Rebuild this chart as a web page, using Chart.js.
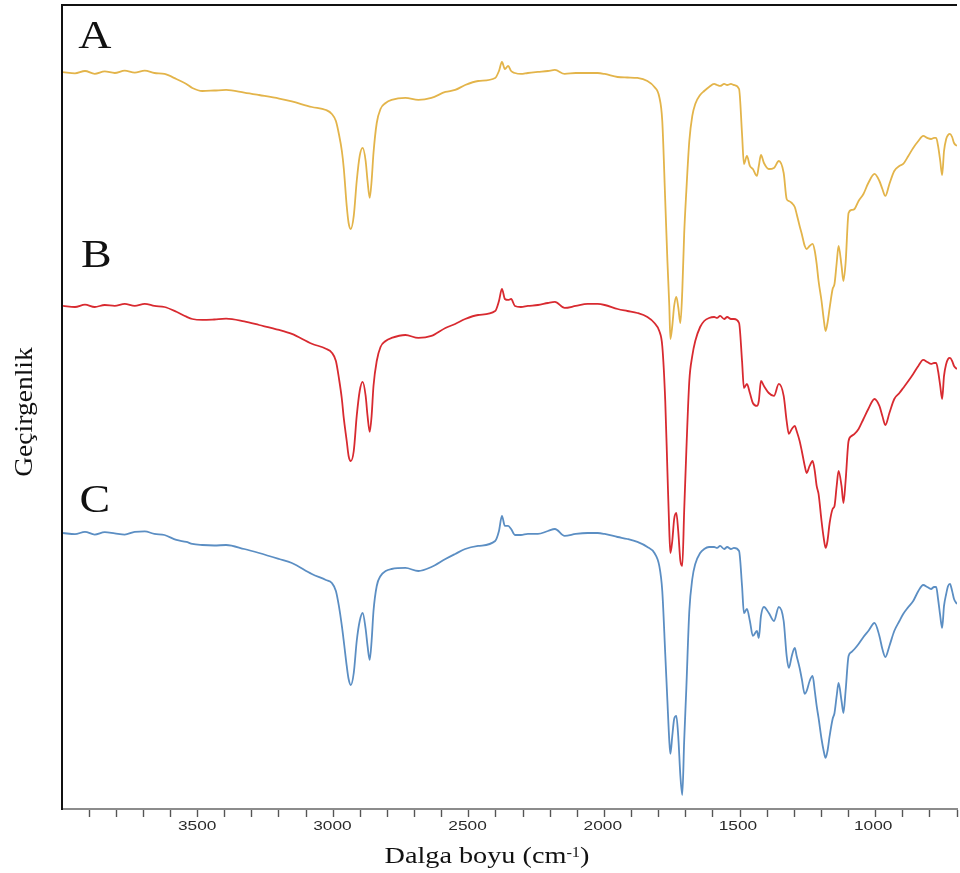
<!DOCTYPE html>
<html lang="tr">

<head>
    <meta charset="UTF-8">
    <meta name="viewport" content="width=device-width, initial-scale=1.0">
    <script src="https://cdn.jsdelivr.net/npm/chart.js"></script>
    <title>FTIR Spektrumları</title>
    <style>
        body {
            margin: 0;
            background-color: #ffffff;
        }

        .chart-container {
            position: relative;
            width: 960px;
            height: 873px;
        }
    </style>
</head>

<body>

    <div class="chart-container">
        <canvas id="ftirChart"></canvas>
    </div>

    <script>
        // Wavenumbers (cm-1), shared by the three spectra
        const wavenumbers = [
            3996, 3952, 3915, 3879, 3842, 3805, 3768, 3731, 3694, 3658,
            3621, 3577, 3540, 3518, 3481, 3437, 3393, 3326, 3271, 3197,
            3150, 3076, 3024, 3002, 2987, 2976, 2965, 2958, 2947, 2940,
            2932, 2921, 2910, 2899, 2888, 2877, 2870, 2862, 2855, 2848,
            2836, 2822, 2803, 2781, 2730, 2682, 2634, 2582, 2546, 2509,
            2461, 2398, 2384, 2373, 2362, 2350, 2339, 2325, 2303, 2277,
            2240, 2203, 2177, 2141, 2100, 2056, 2019, 1993, 1945, 1909,
            1872, 1835, 1809, 1791, 1780, 1769, 1761, 1754, 1750, 1743,
            1736, 1728, 1721, 1713, 1706, 1699, 1691, 1680, 1669, 1658,
            1640, 1625, 1607, 1588, 1577, 1566, 1551, 1540, 1526, 1515,
            1496, 1485, 1478, 1467, 1456, 1445, 1430, 1423, 1415, 1404,
            1386, 1367, 1349, 1331, 1320, 1312, 1301, 1290, 1283, 1272,
            1264, 1253, 1246, 1235, 1224, 1216, 1209, 1202, 1191, 1183,
            1176, 1169, 1161, 1150, 1143, 1135, 1128, 1117, 1110, 1102,
            1091, 1080, 1069, 1054, 1036, 1018, 995, 977, 966, 955,
            940, 922, 903, 889, 870, 852, 833, 815, 800, 786,
            775, 767, 760, 752, 745, 738, 730, 723, 716, 708,
            701, 690
        ];

        // Transmittance (offset, arbitrary units)
        const spectrumA = [
            92.1, 91.95, 92.25, 91.9, 92.2, 92.0, 92.3, 92.05, 92.3, 92.0,
            91.88, 91.25, 90.63, 90.13, 89.75, 89.81, 89.88, 89.56, 89.25, 88.81,
            88.44, 87.75, 87.38, 86.88, 86.0, 84.38, 82.25, 80.13, 75.38, 73.25,
            72.5, 74.13, 78.5, 81.63, 82.63, 81.0, 78.5, 76.38, 78.5, 82.0,
            85.75, 87.5, 88.25, 88.63, 88.88, 88.63, 88.88, 89.63, 89.88, 90.5,
            91.0, 91.38, 92.25, 93.38, 92.5, 92.88, 92.25, 92.0, 91.88, 92.0,
            92.13, 92.25, 92.38, 91.88, 92.0, 92.0, 92.0, 91.88, 91.5, 91.44,
            91.38, 91.0, 90.25, 89.0, 86.0, 76.0, 68.5, 62.88, 58.75, 60.38,
            62.88, 64.0, 62.75, 60.75, 64.75, 71.88, 77.25, 83.5, 86.63, 88.13,
            89.25, 89.75, 90.25, 90.63, 90.5, 90.38, 90.63, 90.5, 90.63, 90.5,
            90.0, 84.38, 80.63, 81.63, 80.38, 80.0, 79.13, 80.38, 81.75, 80.75,
            80.0, 80.13, 81.0, 79.5, 76.25, 76.0, 75.75, 75.25, 74.38, 72.88,
            71.88, 70.38, 70.0, 70.38, 70.63, 69.75, 68.13, 66.0, 63.5, 61.25,
            59.75, 60.75, 62.63, 65.0, 65.63, 68.25, 70.38, 67.88, 66.0, 68.25,
            74.5, 74.88, 75.0, 76.0, 76.88, 78.25, 79.38, 78.5, 77.5, 76.63,
            78.13, 79.75, 80.38, 80.63, 81.63, 82.63, 83.5, 84.13, 83.88, 83.75,
            83.88, 83.88, 82.88, 81.0, 79.25, 82.25, 83.75, 84.25, 84.38, 84.0,
            83.25, 82.88
        ];

        const spectrumB = [
            62.88, 62.75, 63.05, 62.75, 63.0, 62.9, 63.15, 62.9, 63.15, 62.88,
            62.75, 62.16, 61.54, 61.25, 61.13, 61.19, 61.29, 60.94, 60.5, 59.88,
            59.38, 58.16, 57.54, 57.04, 56.0, 53.88, 51.25, 48.88, 46.0, 44.13,
            43.5, 44.75, 49.13, 52.25, 53.38, 51.63, 49.13, 47.13, 49.13, 52.88,
            56.0, 57.75, 58.5, 58.88, 59.25, 58.88, 59.13, 60.13, 60.63, 61.25,
            61.75, 62.25, 63.5, 65.0, 63.75, 63.63, 63.75, 62.88, 62.75, 62.88,
            63.0, 63.25, 63.38, 62.63, 62.88, 63.13, 63.13, 63.0, 62.5, 62.25,
            62.0, 61.5, 60.75, 59.75, 57.88, 51.0, 42.25, 34.75, 32.0, 33.5,
            36.25, 37.0, 34.75, 31.0, 30.38, 37.25, 44.75, 53.5, 56.63, 58.5,
            60.25, 61.0, 61.38, 61.5, 61.38, 61.63, 61.25, 61.5, 61.25, 61.25,
            60.75, 56.0, 52.63, 53.13, 52.0, 50.75, 50.38, 51.0, 53.5, 52.88,
            52.0, 51.63, 53.13, 51.63, 48.5, 46.88, 47.5, 47.88, 47.25, 46.0,
            44.75, 42.88, 42.0, 42.88, 43.5, 42.25, 40.38, 39.38, 36.0, 33.88,
            32.63, 33.5, 35.75, 37.5, 37.88, 40.38, 42.25, 40.38, 38.25, 41.0,
            46.0, 46.63, 46.88, 47.5, 48.75, 50.0, 51.25, 50.38, 49.13, 48.0,
            49.5, 51.25, 52.0, 52.63, 53.5, 54.38, 55.38, 56.13, 55.88, 55.63,
            55.75, 55.75, 54.75, 52.88, 51.25, 54.13, 55.63, 56.25, 56.38, 56.0,
            55.38, 55.0
        ];

        const spectrumC = [
            34.5, 34.35, 34.65, 34.3, 34.6, 34.45, 34.3, 34.65, 34.7, 34.38,
            34.25, 33.63, 33.38, 33.13, 33.0, 32.94, 33.0, 32.5, 32.0, 31.25,
            30.75, 29.38, 28.63, 28.25, 27.25, 25.38, 22.88, 21.0, 17.88, 16.25,
            15.5, 17.0, 21.0, 23.5, 24.5, 22.5, 20.38, 18.63, 21.0, 24.75,
            27.88, 29.13, 29.75, 30.0, 30.13, 29.75, 30.25, 31.25, 31.88, 32.5,
            32.88, 33.5, 34.75, 36.63, 35.38, 35.38, 35.0, 34.25, 34.25, 34.38,
            34.38, 34.75, 35.0, 34.13, 34.38, 34.5, 34.5, 34.38, 34.0, 33.75,
            33.38, 32.75, 32.0, 30.38, 27.25, 19.38, 13.5, 8.5, 6.88, 9.13,
            11.25, 11.63, 9.13, 4.13, 1.75, 8.5, 15.13, 24.75, 28.75, 30.63,
            32.0, 32.5, 32.75, 32.75, 32.63, 32.88, 32.5, 32.75, 32.5, 32.63,
            32.25, 27.88, 24.5, 25.0, 23.5, 21.63, 22.25, 21.38, 24.13, 25.25,
            24.5, 23.5, 25.25, 23.5, 19.13, 17.63, 19.13, 20.13, 19.13, 17.63,
            16.25, 14.38, 14.75, 16.0, 16.63, 14.75, 12.88, 11.38, 8.75, 7.25,
            6.38, 7.25, 9.13, 11.25, 12.0, 14.13, 15.75, 13.5, 12.0, 14.75,
            19.13, 19.63, 20.0, 20.63, 21.5, 22.25, 23.25, 21.63, 20.0, 19.0,
            20.38, 22.25, 23.5, 24.38, 25.25, 26.0, 27.25, 28.0, 27.75, 27.5,
            27.75, 27.75, 26.25, 24.13, 22.63, 25.38, 26.88, 27.88, 28.13, 27.25,
            26.25, 25.63
        ];

        const seriesNames = ['A', 'B', 'C'];
        const seriesColors = ['#e3b44a', '#d82a30', '#5b8ec3'];

        // Labelled ticks on the wavenumber axis
        const tickLabels = [3500, 3000, 2500, 2000, 1500, 1000];

        function toPoints(values) {
            return wavenumbers.map((w, i) => ({ x: w, y: values[i] }));
        }

        // Draw text stretched horizontally
        function wideText(ctx, text, x, y, sx, align) {
            ctx.save();
            ctx.translate(x, y);
            ctx.scale(sx, 1);
            ctx.textAlign = align || 'left';
            ctx.fillText(text, 0, 0);
            ctx.restore();
        }

        // Top frame line, tick numbers, axis titles and the A/B/C tags
        const decorations = {
            id: 'decorations',
            afterDraw(chart, args, opts) {
                const { ctx, chartArea: area, scales: { x, y } } = chart;
                ctx.save();

                ctx.strokeStyle = '#111';
                ctx.lineWidth = 2;
                ctx.beginPath();
                ctx.moveTo(area.left - 1, area.top);
                ctx.lineTo(area.right, area.top);
                ctx.stroke();

                ctx.fillStyle = '#2a2a2a';
                ctx.font = '13px Arimo, "Liberation Sans", Arial, sans-serif';
                ctx.textBaseline = 'alphabetic';
                tickLabels.forEach(v => {
                    wideText(ctx, String(v), x.getPixelForValue(v), area.bottom + 20.5, 1.33, 'center');
                });

                // x title with superscript
                ctx.fillStyle = '#111';
                const big = '24px "Liberation Serif", "Times New Roman", serif';
                const small = '14px "Liberation Serif", "Times New Roman", serif';
                ctx.font = big;
                const w1 = ctx.measureText('Dalga boyu (cm').width;
                const w3 = ctx.measureText(')').width;
                ctx.font = small;
                const w2 = ctx.measureText('-1').width;
                const sx = 205 / (w1 + w2 + w3);
                const left = opts.titleCenter - 102.5;
                const base = area.bottom + 54;
                ctx.font = big;
                wideText(ctx, 'Dalga boyu (cm', left, base, sx);
                ctx.font = small;
                wideText(ctx, '-1', left + w1 * sx, base - 6, sx);
                ctx.font = big;
                wideText(ctx, ')', left + (w1 + w2) * sx, base, sx);

                // y title
                ctx.save();
                ctx.translate(32, (area.top + area.bottom) / 2 + 5);
                ctx.rotate(-Math.PI / 2);
                ctx.font = '26px "Liberation Serif", "Times New Roman", serif';
                wideText(ctx, 'Geçirgenlik', 0, 0, 1.06, 'center');
                ctx.restore();

                // series tags
                ctx.font = '41px "Liberation Serif", "Times New Roman", serif';
                opts.tags.forEach((tag, i) => {
                    wideText(ctx, seriesNames[i], x.getPixelForValue(tag.x), y.getPixelForValue(tag.y), 1.12, 'left');
                });

                ctx.restore();
            }
        };

        const ctx = document.getElementById('ftirChart').getContext('2d');
        new Chart(ctx, {
            type: 'line',
            data: {
                datasets: [spectrumA, spectrumB, spectrumC].map((values, i) => ({
                    label: seriesNames[i],
                    data: toPoints(values),
                    borderColor: seriesColors[i],
                    borderWidth: 1.8,
                    pointRadius: 0,
                    fill: false,
                    cubicInterpolationMode: 'monotone'
                }))
            },
            options: {
                responsive: true,
                maintainAspectRatio: false,
                animation: false,
                layout: {
                    padding: { top: 5, right: 0, bottom: 0, left: 0 }
                },
                scales: {
                    x: {
                        type: 'linear',
                        reverse: true,
                        min: 690,
                        max: 4000,
                        afterFit: scale => { scale.height = 64; },
                        border: { color: '#8c8c8c', width: 2 },
                        grid: {
                            drawOnChartArea: false,
                            drawTicks: true,
                            tickLength: 8,
                            tickWidth: 1.4,
                            tickColor: c => (c.tick && c.tick.value >= 4000 ? 'rgba(0,0,0,0)' : '#555')
                        },
                        ticks: {
                            stepSize: 100,
                            autoSkip: false,
                            includeBounds: false,
                            maxRotation: 0,
                            color: 'rgba(0,0,0,0)',
                            callback: () => ''
                        }
                    },
                    y: {
                        min: 0,
                        max: 100.5,
                        afterFit: scale => { scale.width = 62; },
                        border: { color: '#111', width: 2 },
                        grid: { display: false },
                        ticks: { display: false }
                    }
                },
                plugins: {
                    legend: { display: false },
                    tooltip: { enabled: false },
                    decorations: {
                        titleCenter: 487,
                        tags: [{ x: 3940, y: 95.1 }, { x: 3930, y: 67.7 }, { x: 3935, y: 37.1 }]
                    }
                }
            },
            plugins: [decorations]
        });
    </script>
</body>

</html>
